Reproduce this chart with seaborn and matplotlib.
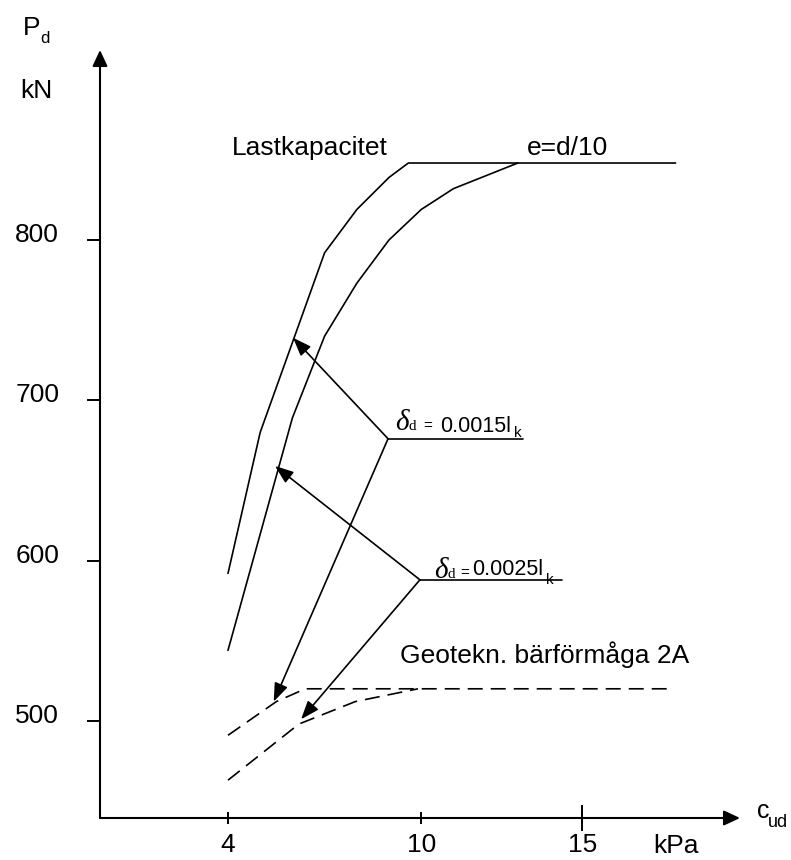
import numpy as np
import pandas as pd
import seaborn as sns
from matplotlib import pyplot as plt
from matplotlib.transforms import ScaledTranslation

# values (c_ud in kPa, P_d in kN)
cu_cap = [4, 5, 7, 8, 9, 9.6, 17.9]          # Lastkapacitet
pd_cap = [592, 680, 792, 819, 839, 848, 848]
cu_ecc = [4, 6, 7, 8, 9, 10, 11, 13]          # e=d/10
pd_ecc = [544, 689, 740, 773, 800, 819, 832, 848]
cu_geo_a = [4, 5.5, 6.4, 17.8]                # Geotekn. bärförmåga 2A
pd_geo_a = [491, 512, 520, 520]
cu_geo_b = [4, 6.2, 7.95, 9.9]
pd_geo_b = [463, 498, 512, 520]

x_ticks = [4, 10, 15]
y_ticks = [500, 600, 700, 800]

# deformation labels: leader start point, leader end x, arrow targets
defl_origin = [(8.97, 676), (9.96, 588)]
defl_end = [13.16, 14.37]
defl_targets = [[(6.02, 739), (5.42, 512)], [(5.46, 659), (6.27, 501)]]

sns.set_theme(style='white')
plt.rcParams['font.family'] = ['Liberation Sans', 'DejaVu Sans']

W, H = 791, 860
fig = plt.figure(figsize=(W / 100, H / 100), dpi=100)
ax = fig.add_axes([100 / W, 1 - 818 / H, 640 / W, 768 / H])

def curve(x, y, **kw):
    df = pd.DataFrame({'cu': x, 'pd': y})
    sns.lineplot(data=df, x='cu', y='pd', ax=ax, color='black', lw=1.2,
                 sort=False, estimator=None, **kw)

curve(cu_cap, pd_cap)
curve(cu_ecc, pd_ecc)
curve(cu_geo_a, pd_geo_a, linestyle=(0, (9.0, 4.8)))
curve(cu_geo_b, pd_geo_b, linestyle=(0, (9.0, 4.8)))

xmin, xmax = 0.025, 19.9
ymin, ymax = 439.4, 918.5
ax.set_xlim(xmin, xmax)
ax.set_ylim(ymin, ymax)
for s in ax.spines.values():
    s.set_visible(False)

# axes with arrow heads
axis_arrow = dict(arrowstyle='-|>,head_length=0.75,head_width=0.35', color='black',
                  lw=1.5, shrinkA=0, shrinkB=0, mutation_scale=13)
ax.annotate('', xy=(xmax, ymin), xytext=(xmin, ymin), arrowprops=axis_arrow,
            annotation_clip=False)
ax.annotate('', xy=(xmin, ymax), xytext=(xmin, ymin), arrowprops=axis_arrow,
            annotation_clip=False)

# leader lines and arrows to the curves
ptr = dict(arrowstyle='-|>,head_length=0.8,head_width=0.3', color='black',
           lw=1.2, shrinkA=0, shrinkB=0, mutation_scale=14)
for (x0, y0), x1, targets in zip(defl_origin, defl_end, defl_targets):
    ax.plot([x0, x1], [y0, y0], color='black', lw=1.2)
    for t in targets:
        ax.annotate('', xy=t, xytext=(x0, y0), arrowprops=ptr)

ax.set_xticks(x_ticks)
ax.set_yticks(y_ticks)
ax.set_xticks([15], minor=True)
ax.xaxis.remove_overlapping_locs = False
ax.set_xlabel('')
ax.set_ylabel('')
ax.tick_params(axis='y', which='major', direction='out', length=9.4, width=1.4,
               color='black', pad=20, labelsize=19, labelcolor='black', left=True)
ax.tick_params(axis='x', which='major', direction='inout', length=8.6, width=1.4,
               color='black', pad=6.5, labelsize=19, labelcolor='black', bottom=True)
ax.tick_params(axis='x', which='minor', direction='inout', length=19, width=1.4,
               color='black', bottom=True)
# y labels sit a little above their ticks in the original
lift = ScaledTranslation(0, 7.5 / 100, fig.dpi_scale_trans)
for lab in ax.get_yticklabels():
    lab.set_transform(lab.get_transform() + lift)

def ptext(x, y, s, **kw):
    kw.setdefault('fontsize', 19)
    kw.setdefault('va', 'baseline')
    fig.text(x / W, 1 - y / H, s, color='black', **kw)

ptext(23, 35, 'P')
ptext(40, 43, 'd', fontsize=12)
ptext(36, 98, 'kN', ha='center')
ptext(757, 818, 'c', fontsize=18)
ptext(768, 827, 'ud', fontsize=13)
ptext(653, 853, 'kPa')
ptext(232, 155, 'Lastkapacitet')
ptext(527, 155, 'e=d/10')
ptext(400, 663, 'Geotekn. bärförmåga 2A')

serif = ['Liberation Serif', 'DejaVu Serif']
# δd = 0.0015lk
ptext(395, 430, 'δ', fontsize=21, family=serif, style='italic')
ptext(409, 430, 'd', fontsize=11, family=serif)
ptext(423, 430, '=', fontsize=11)
ptext(440, 432, '0.0015l', fontsize=15.5)
ptext(514, 437, 'k', fontsize=11)
# δd =0.0025lk
ptext(434, 578, 'δ', fontsize=21, family=serif, style='italic')
ptext(448, 578, 'd', fontsize=11, family=serif)
ptext(460, 577, '=', fontsize=11)
ptext(472, 575, '0.0025l', fontsize=15.5)
ptext(546, 584, 'k', fontsize=11)

fig.savefig('out.png', dpi=100)
